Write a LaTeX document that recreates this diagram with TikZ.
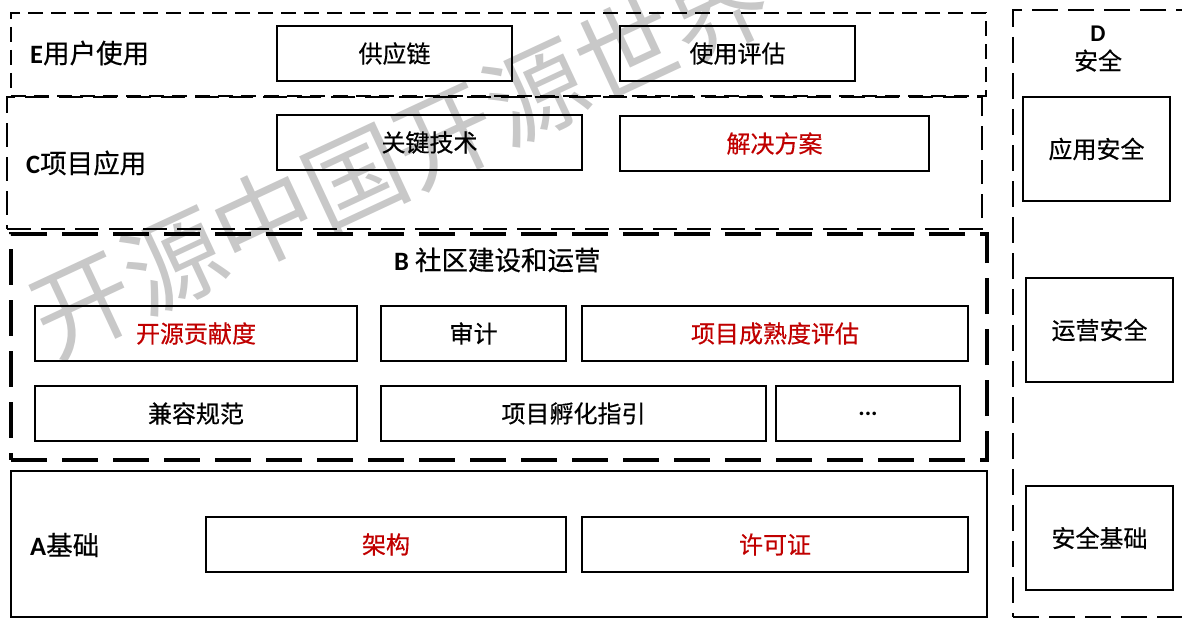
\documentclass[tikz,border=0pt]{standalone}
\usepackage{fontspec}
\setmainfont{Noto Sans CJK SC}[FakeBold=0.5]
\newfontfamily\wmfont{Noto Sans CJK SC}
\newfontfamily\latin{Carlito}
\usepackage{tikz}
\pgfdeclarelayer{bg}
\pgfsetlayers{bg,main}
\definecolor{hotred}{RGB}{192,0,0}
\definecolor{wmgray}{RGB}{200,200,200}

\begin{document}
\begin{tikzpicture}[x=1pt, y=-1pt,
        box/.style={draw, line width=2.5pt, inner sep=0pt, outer sep=0pt,
                minimum height=55pt, font=\fontsize{24}{28}\selectfont},
        hot/.style={text=hotred},
        frame/.style={draw, inner sep=0pt, outer sep=0pt},
        title/.style={inner sep=0pt, font=\fontsize{26.5}{30}\selectfont},
        wmark/.style={text=wmgray, rotate=25, inner sep=0pt,
                font=\wmfont\fontsize{100}{110}\selectfont}]
        \useasboundingbox (0,0) rectangle (1182,618);
        \clip (0,0) rectangle (1182,618);
        \begin{pgfonlayer}{bg}
                \node (wm) [wmark] at (400, 156) {开源中国开源世界};
        \end{pgfonlayer}
        % layer frames
        \node (fe) [frame, line width=2pt, dash pattern=on 15pt off 8pt,
                minimum width=975pt, minimum height=83pt] at (498.5, 54.5) {};
        \node (fc) [frame, line width=2.5pt, dash pattern=on 24pt off 10pt,
                minimum width=975pt, minimum height=132pt] at (494.5, 163) {};
        \node (fb) [frame, line width=4pt, dash pattern=on 36pt off 15pt,
                minimum width=976pt, minimum height=226pt] at (499, 347) {};
        \node (fa) [frame, line width=2pt,
                minimum width=976pt, minimum height=146pt] at (499, 544) {};
        \node (fd) [frame, line width=2.5pt, dash pattern=on 26pt off 10pt,
                minimum width=187pt, minimum height=607pt] at (1106.5, 313.5) {};
        % titles
        \node (te) [title, anchor=west] at (30, 53) {{\latin\bfseries E}用户使用};
        \node (tc) [title, anchor=west] at (26, 163) {{\latin\bfseries C}项目应用};
        \node (tb) [title, anchor=west] at (394, 260) {{\latin\bfseries B} 社区建设和运营};
        \node (ta) [title, anchor=west] at (30, 545) {{\latin\bfseries A}基础};
        \node (td) [title, align=center, font=\fontsize{24}{28}\selectfont]
                at (1098, 49) {{\latin\bfseries D}\\安全};
        % E
        \node (e0) [box, minimum width=235pt] at (394.5, 53.5) {供应链};
        \node (e1) [box, minimum width=235pt] at (737.5, 53.5) {使用评估};
        % C
        \node (c0) [box, minimum width=305pt] at (429.5, 142.5) {关键技术};
        \node (c1) [box, hot, minimum width=309pt] at (774.5, 143.5) {解决方案};
        % B
        \node (b0) [box, hot, minimum width=322pt] at (196, 333.5) {开源贡献度};
        \node (b1) [box, minimum width=185pt] at (473.5, 333.5) {审计};
        \node (b2) [box, hot, minimum width=386pt] at (775, 333.5) {项目成熟度评估};
        \node (b3) [box, minimum width=322pt] at (196, 413.5) {兼容规范};
        \node (b4) [box, minimum width=385pt] at (573.5, 413.5) {项目孵化指引};
        \node (b5) [box, minimum width=184pt] at (868, 413.5) {\latin\bfseries ...};
        % A
        \node (a0) [box, hot, minimum width=360pt] at (386, 544.5) {架构};
        \node (a1) [box, hot, minimum width=386pt] at (775, 544.5) {许可证};
        % D
        \node (d0) [box, minimum width=147pt, minimum height=104pt] at (1096.5, 149) {应用安全};
        \node (d1) [box, minimum width=147pt, minimum height=104pt] at (1099.5, 330) {运营安全};
        \node (d2) [box, minimum width=147pt, minimum height=104pt] at (1099.5, 538) {安全基础};
\end{tikzpicture}
\end{document}
